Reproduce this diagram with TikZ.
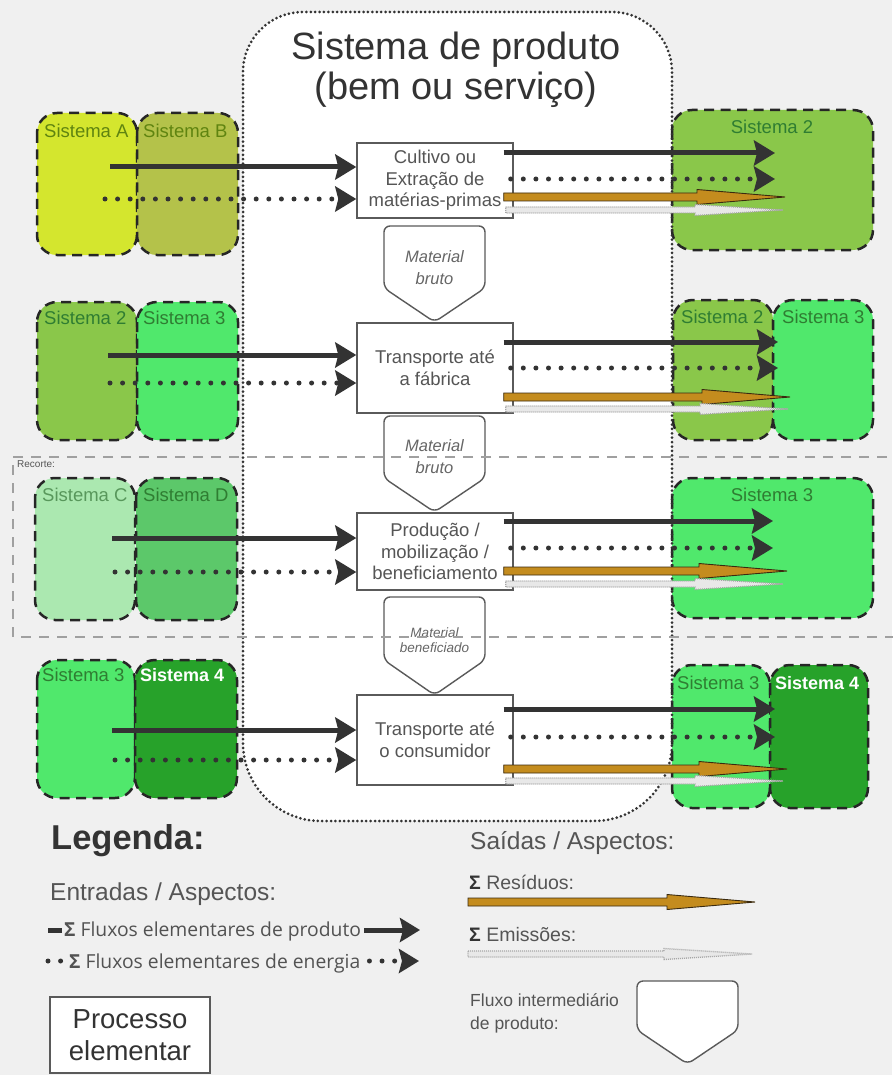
\documentclass[tikz,border=0pt]{standalone}
\usepackage{fontspec}
\setmainfont{Liberation Sans}
\newfontfamily\legfont{Open Sans}
\usetikzlibrary{arrows.meta,calc}

\definecolor{bgc}{HTML}{F0F0F0}
\definecolor{dark}{HTML}{333333}
\definecolor{proctext}{HTML}{555555}
\definecolor{procline}{HTML}{5A5A5A}
\definecolor{labgreen}{HTML}{2F7D32}
\definecolor{labolive}{HTML}{5F8410}
\definecolor{fillA}{HTML}{D4E62E}
\definecolor{fillB}{HTML}{B4C24A}
\definecolor{fillS2}{HTML}{8AC74A}
\definecolor{fillS3}{HTML}{50E86C}
\definecolor{fillC}{HTML}{ABE8B0}
\definecolor{fillD}{HTML}{5CC86A}
\definecolor{fillS4}{HTML}{27A22A}
\definecolor{resfill}{HTML}{C48C1E}
\definecolor{resline}{HTML}{3A2A10}
\definecolor{cutline}{HTML}{A0A0A0}

% output arrow with a long, narrow head (residues / emissions)
\tikzset{
  outshape/.style n args={3}{to path={
    let \p1=(\tikztostart), \p2=(\tikztotarget) in
    (\x1,\y1+#1) -- (\x2-#3,\y1+#1) -- (\x2-#3,\y1+#2) -- (\x2,\y1)
    -- (\x2-#3,\y1-#2) -- (\x2-#3,\y1-#1) -- (\x1,\y1-#1) -- cycle}},
}

\newcommand\flowshape[4]{% centre x, top, end of sides, tip
  \draw[pentline] (#1,#4) -- (#1-50.5,#3) -- (#1-50.5,#2) -- (#1+50.5,#2)
    -- (#1+50.5,#3) -- cycle;}

\begin{document}
\begin{tikzpicture}[x=1pt,y=-1pt,
  sysbox/.style={draw=black!85, line width=2.5pt, dash pattern=on 10pt off 6.5pt, rounded corners=20pt},
  syslabel/.style={font=\fontsize{18.5}{18.5}\selectfont, anchor=west, inner sep=0pt, text=labgreen},
  proc/.style={draw=procline, line width=1.4pt, fill=white, align=center, text=proctext,
    font=\fontsize{18.5}{21.5}\selectfont, minimum width=156pt, inner sep=0pt},
  pentline/.style={draw=procline, line width=1.4pt, fill=white, rounded corners=6pt},
  flowtext/.style={align=center, text=proctext!90, inner sep=0pt},
  inflow/.style={draw=dark, line width=5pt, -{Stealth[length=21pt,width=25pt,inset=3pt]}},
  energy/.style={draw=dark, line width=5pt, line cap=round, dash pattern=on 0pt off 12.6pt,
    -{Stealth[length=21pt,width=25pt,inset=3pt]}},
  residue/.style={fill=resfill, draw=resline, line width=0.9pt, outshape={4pt}{7.5pt}{88pt}},
  emission/.style={fill=gray!18, draw=gray!70, line width=1.3pt, dash pattern=on 1pt off 1pt,
    outshape={3pt}{5.5pt}{88pt}},
  legtext/.style={anchor=base west, inner sep=0pt, text=proctext},
]
\useasboundingbox (0,0) rectangle (892,1075);
\fill[bgc] (0,0) rectangle (892,1075);

% product system area
\fill[white] (243,400) [rounded corners=60pt] -- (243,12) -- (672,12) -- (672,400)
  [rounded corners=78pt] -- (672,821) -- (243,821) -- cycle;

\node[text=dark, align=center, font=\fontsize{38}{40}\selectfont] (title) at (456,70)
  {Sistema de produto\\(bem ou serviço)};

% neighbouring systems, left
\draw[sysbox, fill=fillA] (37,113) rectangle (137,255);
\draw[sysbox, fill=fillB] (137,113) rectangle (238,255);
\node[syslabel, text=labolive] (lA) at (44,131) {Sistema A};
\node[syslabel, text=labolive] (lB) at (143,131) {Sistema B};

\draw[sysbox, fill=fillS2] (37,302) rectangle (137,440);
\draw[sysbox, fill=fillS3] (137,302) rectangle (238,440);
\node[syslabel] (l2a) at (44,318) {Sistema 2};
\node[syslabel] (l3a) at (143,318) {Sistema 3};

\draw[sysbox, fill=fillC] (35,478) rectangle (135,620);
\draw[sysbox, fill=fillD] (136,478) rectangle (237,620);
\node[syslabel, text=labgreen!80!white] (lC) at (42,495) {Sistema C};
\node[syslabel] (lD) at (143,495) {Sistema D};

\draw[sysbox, fill=fillS3] (37,660) rectangle (135,798);
\draw[sysbox, fill=fillS4] (135,660) rectangle (237,798);
\node[syslabel] (l3b) at (42,675) {Sistema 3};
\node[syslabel, text=white, font=\bfseries\fontsize{18}{18}\selectfont] (l4a) at (140,675) {Sistema 4};

% neighbouring systems, right
\draw[sysbox, fill=fillS2] (672,110) rectangle (873,250);
\node[syslabel, anchor=center] (r2a) at (772,127) {Sistema 2};

\draw[sysbox, fill=fillS2] (673,300) rectangle (773,440);
\draw[sysbox, fill=fillS3] (773,300) rectangle (873,440);
\node[syslabel] (r2b) at (681,317) {Sistema 2};
\node[syslabel] (r3a) at (782,317) {Sistema 3};

\draw[sysbox, fill=fillS3] (672,478) rectangle (873,618);
\node[syslabel, anchor=center] (r3b) at (772,495) {Sistema 3};

\draw[sysbox, fill=fillS3] (672,665) rectangle (770,808);
\draw[sysbox, fill=fillS4] (770,665) rectangle (868,808);
\node[syslabel] (r3c) at (677,683) {Sistema 3};
\node[syslabel, text=white, font=\bfseries\fontsize{18}{18}\selectfont] (r4) at (775,683) {Sistema 4};

% dotted border of the product system
\draw[dark, line width=3pt, line cap=round, dash pattern=on 0pt off 4.4pt]
  (243,400) [rounded corners=60pt] -- (243,12) -- (672,12) -- (672,400)
  [rounded corners=78pt] -- (672,821) -- (243,821) -- cycle;

% elementary processes
\node[proc, minimum height=75pt] (p1) at (435,180.5) {Cultivo ou\\Extração de\\matérias-primas};
\node[proc, minimum height=90pt] (p2) at (435,368) {Transporte até\\a fábrica};
\node[proc, minimum height=77pt] (p3) at (435,551.5) {Produção /\\mobilização /\\beneficiamento};
\node[proc, minimum height=90pt] (p4) at (435,740) {Transporte até\\o consumidor};

% intermediate product flows
\flowshape{434.5}{226}{288}{322}
\node[flowtext, font=\itshape\fontsize{16.5}{22}\selectfont] (f1) at (434.5,268) {Material\\bruto};
\flowshape{434.5}{416}{478}{512}
\node[flowtext, font=\itshape\fontsize{16.5}{22}\selectfont] (f2) at (434.5,457) {Material\\bruto};
\flowshape{434.5}{597}{660}{695}
\node[flowtext, font=\itshape\fontsize{13.5}{15}\selectfont] (f3) at (434.5,640) {Material\\beneficiado};

% cut-off frame
\draw[cutline, line width=1.8pt, dash pattern=on 10pt off 8pt]
  (905,457) -- (13,457) -- (13,637) -- (905,637);
\node[anchor=north west, inner sep=0pt, text=proctext, font=\fontsize{10}{10}\selectfont]
  (cut) at (17,460) {Recorte:};

% input flows
\coordinate (a1) at (110,167); \coordinate (e1) at (105,199);
\coordinate (a2) at (108,355); \coordinate (e2) at (110,383);
\coordinate (a3) at (112,538); \coordinate (e3) at (115,572);
\coordinate (a4) at (112,730); \coordinate (e4) at (115,760);
\draw[inflow] (a1) -- (p1.west |- a1);
\draw[energy] (e1) -- (p1.west |- e1);
\draw[inflow] (a2) -- (p2.west |- a2);
\draw[energy] (e2) -- (p2.west |- e2);
\draw[inflow] (a3) -- (p3.west |- a3);
\draw[energy] (e3) -- (p3.west |- e3);
\draw[inflow] (a4) -- (p4.west |- a4);
\draw[energy] (e4) -- (p4.west |- e4);

% output flows
\coordinate (o1) at (775,153); \coordinate (n1) at (775,179);
\coordinate (w1) at (785,197); \coordinate (m1) at (783,210);
\coordinate (o2) at (778,342); \coordinate (n2) at (778,368);
\coordinate (w2) at (790,397); \coordinate (m2) at (788,409);
\coordinate (o3) at (773,521); \coordinate (n3) at (773,548);
\coordinate (w3) at (787,571); \coordinate (m3) at (783,584);
\coordinate (o4) at (775,709); \coordinate (n4) at (775,737);
\coordinate (w4) at (787,769); \coordinate (m4) at (783,781);
\foreach \i in {1,2,3,4}{
  \draw[inflow] ([xshift=-10pt]p\i.east |- o\i) -- (o\i);
  \draw[energy] ([xshift=-3pt]p\i.east |- n\i) -- (n\i);
  \draw[residue] ([xshift=-10pt]p\i.east |- w\i) to (w\i);
  \draw[emission] ([xshift=-8pt]p\i.east |- m\i) to (m\i);
}

% legend, inputs
\node[anchor=base west, inner sep=0pt, text=dark, font=\bfseries\fontsize{34.5}{34.5}\selectfont]
  (leg) at (51,849) {Legenda:};
\node[legtext, font=\fontsize{24.5}{24.5}\selectfont] (lin) at (50,900) {Entradas / Aspectos:};
\node[legtext, text=dark!85, font=\legfont\fontsize{19.3}{19.3}\selectfont] (lprod) at (64,936)
  {\textbf{Σ} Fluxos elementares de produto};
\node[legtext, text=dark!85, font=\legfont\fontsize{19.3}{19.3}\selectfont] (lener) at (69,968)
  {\textbf{Σ} Fluxos elementares de energia};
\coordinate (k1) at (48,930); \coordinate (k2) at (420,930);
\coordinate (k3) at (48,961); \coordinate (k4) at (419,961);
\draw[dark, line width=5pt] (k1) -- ([xshift=-2pt]lprod.west |- k1);
\draw[inflow, -{Stealth[length=20pt,width=24pt,inset=3pt]}] ([xshift=3pt]lprod.east |- k2) -- (k2);
\draw[energy, -] (k3) -- ([xshift=-2pt]lener.west |- k3);
\draw[energy, -{Stealth[length=20pt,width=24pt,inset=3pt]}] ([xshift=9pt]lener.east |- k4) -- (k4);

\node[proc, minimum width=160pt, minimum height=76pt, text=dark,
  font=\fontsize{27.5}{31.5}\selectfont] (pleg) at (130,1035) {Processo\\elementar};

% legend, outputs
\node[legtext, font=\fontsize{24.5}{24.5}\selectfont] (lout) at (470,849) {Saídas / Aspectos:};
\node[legtext, font=\fontsize{19.5}{19.5}\selectfont] (lres) at (469,889) {\textcolor{dark}{\textbf{Σ}} Resíduos:};
\coordinate (rs) at (468,902); \coordinate (rt) at (755,902);
\draw[residue] (rs) to (rt);
\node[legtext, font=\fontsize{19.5}{19.5}\selectfont] (lemi) at (469,941) {\textcolor{dark}{\textbf{Σ}} Emissões:};
\coordinate (es) at (468,954); \coordinate (et) at (752,954);
\draw[emission] (es) to (et);
\node[legtext, anchor=west, align=left, font=\fontsize{17.5}{23}\selectfont] (lint) at (470,1013)
  {Fluxo intermediário\\de produto:};
\flowshape{687.5}{981}{1030}{1064}
\end{tikzpicture}
\end{document}
